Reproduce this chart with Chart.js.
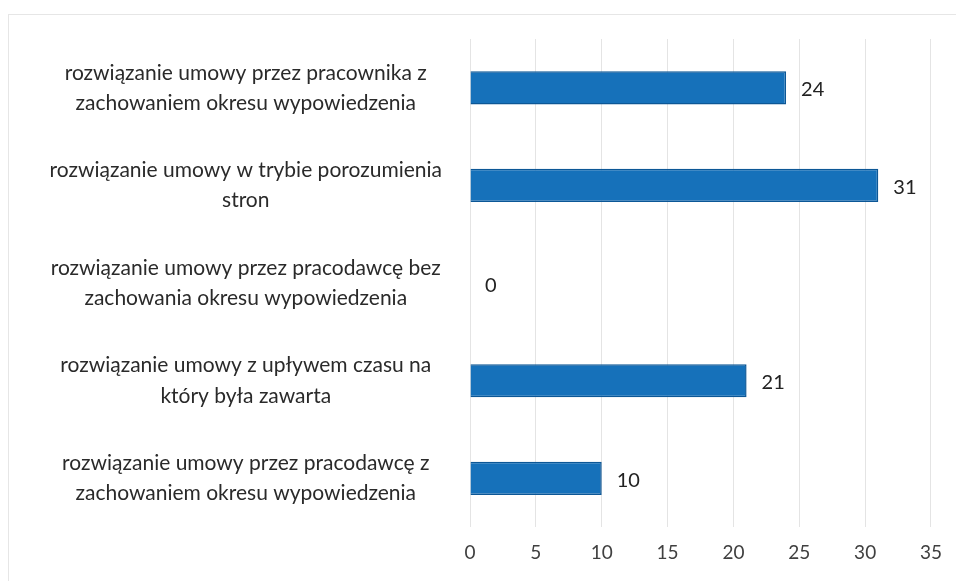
<!DOCTYPE html>
<html>
<head>
<meta charset="utf-8">
<script src="https://cdn.jsdelivr.net/npm/chart.js@4/dist/chart.umd.min.js"></script>
<style>
  html, body { margin: 0; padding: 0; background: #fff; }
  #wrap { position: relative; width: 956px; height: 581px; }
  #frame { position: absolute; left: 8px; top: 14px; width: 960px; height: 600px;
           border-left: 1px solid #e6e6e6; border-top: 1px solid #e6e6e6; }
</style>
</head>
<body>
<div id="wrap">
  <div id="frame"></div>
  <canvas id="barChart" width="956" height="581"></canvas>
</div>
<script>
// categories (top to bottom) and values
const categories = [
  ['rozwiązanie umowy przez pracownika z', 'zachowaniem okresu wypowiedzenia'],
  ['rozwiązanie umowy w trybie porozumienia', 'stron'],
  ['rozwiązanie umowy przez pracodawcę bez', 'zachowania okresu wypowiedzenia'],
  ['rozwiązanie umowy z upływem czasu na', 'który była zawarta'],
  ['rozwiązanie umowy przez pracodawcę z', 'zachowaniem okresu wypowiedzenia']
];
const values = [24, 31, 0, 21, 10];
const xMin = 0;
const xMax = 35;
const xStep = 5;

// draws the number next to each bar
const valueLabels = {
  id: 'valueLabels',
  afterDatasetsDraw(chart) {
    const ctx = chart.ctx;
    const meta = chart.getDatasetMeta(0);
    ctx.save();
    ctx.font = '20px Lato';
    ctx.fillStyle = '#222';
    ctx.textAlign = 'left';
    ctx.textBaseline = 'middle';
    meta.data.forEach((bar, i) => {
      ctx.fillText(values[i], bar.x + 15, bar.y + 2);
    });
    ctx.restore();
  }
};

function renderChart() {
  const ctx = document.getElementById('barChart').getContext('2d');
  new Chart(ctx, {
    type: 'bar',
    data: {
      labels: categories,
      datasets: [{
        data: values,
        backgroundColor: '#1671ba',
        borderColor: '#0c5796',
        borderWidth: 1.5,
        categoryPercentage: 1,
        barPercentage: 0.34
      }]
    },
    options: {
      indexAxis: 'y',
      responsive: false,
      animation: false,
      layout: { padding: { left: 10, right: 24, top: 39, bottom: 3 } },
      plugins: {
        legend: { display: false },
        tooltip: { enabled: false }
      },
      scales: {
        x: {
          min: xMin,
          max: xMax,
          ticks: { stepSize: xStep, color: '#404040', font: { family: 'Lato', size: 19 }, padding: 14 },
          grid: { color: '#e4e4e4', drawTicks: false },
          border: { display: false }
        },
        y: {
          ticks: {
            color: '#2a2a2a',
            font: { family: 'Lato', size: 21, lineHeight: 1.43 },
            crossAlign: 'center',
            padding: 20
          },
          grid: { display: false },
          border: { display: false },
          afterFit(scale) {
            scale.width = 460;
            scale.paddingTop = 0;
            scale.paddingBottom = 0;
          }
        }
      }
    },
    plugins: [valueLabels]
  });
}

window.onload = renderChart;
</script>
</body>
</html>
